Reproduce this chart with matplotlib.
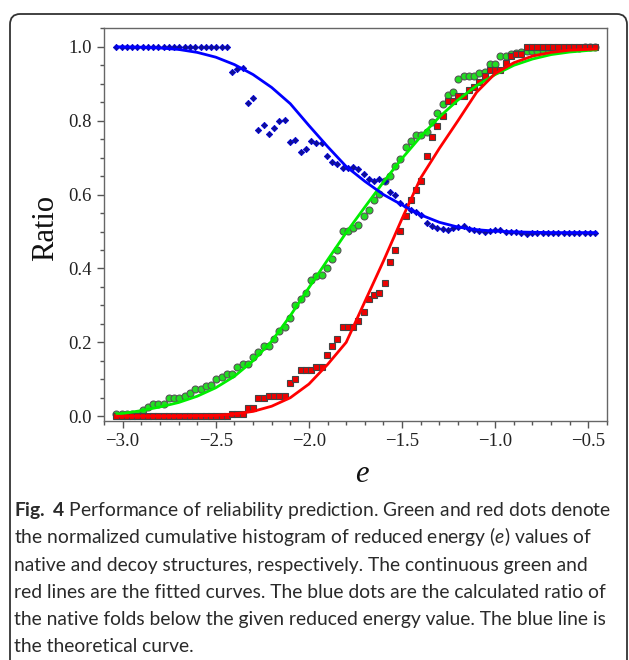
import matplotlib
matplotlib.use("Agg")
import matplotlib.pyplot as plt
from matplotlib.patches import FancyBboxPatch
from matplotlib.ticker import MultipleLocator

# reduced energy bins shared by the three dot series
e_bins = [-3.034, -3.006, -2.977, -2.949, -2.921, -2.893, -2.864, -2.836, -2.808, -2.780,
          -2.751, -2.723, -2.695, -2.667, -2.639, -2.610, -2.582, -2.554, -2.526, -2.497,
          -2.469, -2.441, -2.413, -2.384, -2.356, -2.328, -2.300, -2.271, -2.243, -2.215,
          -2.187, -2.158, -2.130, -2.102, -2.074, -2.045, -2.017, -1.989, -1.961, -1.932,
          -1.904, -1.876, -1.848, -1.819, -1.791, -1.763, -1.735, -1.706, -1.678, -1.650,
          -1.622, -1.593, -1.565, -1.537, -1.509, -1.481, -1.452, -1.424, -1.396, -1.368,
          -1.339, -1.311, -1.283, -1.255, -1.226, -1.198, -1.170, -1.142, -1.113, -1.085,
          -1.057, -1.029, -1.000, -0.972, -0.944, -0.916, -0.887, -0.859, -0.831, -0.803,
          -0.774, -0.746, -0.718, -0.690, -0.662, -0.633, -0.605, -0.577, -0.549, -0.520,
          -0.492, -0.463]

# green dots: native structures
native_cum = [0.007, 0.007, 0.007, 0.005, 0.005, 0.016, 0.025, 0.032, 0.034, 0.034,
              0.049, 0.049, 0.049, 0.055, 0.064, 0.073, 0.073, 0.082, 0.084, 0.100,
              0.107, 0.114, 0.115, 0.132, 0.141, 0.141, 0.159, 0.174, 0.190, 0.190,
              0.208, 0.231, 0.241, 0.267, 0.300, 0.316, 0.333, 0.369, 0.379, 0.381,
              0.402, 0.426, 0.450, 0.501, 0.501, 0.510, 0.519, 0.541, 0.559, 0.586,
              0.602, 0.636, 0.651, 0.678, 0.696, 0.728, 0.745, 0.762, 0.762, 0.769,
              0.796, 0.821, 0.846, 0.870, 0.879, 0.914, 0.922, 0.922, 0.922, 0.929,
              0.931, 0.954, 0.954, 0.974, 0.974, 0.981, 0.983, 0.985, 0.988, 0.990,
              0.990, 0.992, 0.993, 0.994, 0.995, 0.996, 0.997, 0.998, 0.998, 0.999,
              1.000, 1.000]

# red dots: decoy structures
decoy_cum = [0.0] * 22 + [
             0.007, 0.007, 0.007, 0.022, 0.022, 0.049, 0.049, 0.055, 0.055, 0.055,
             0.055, 0.091, 0.100, 0.124, 0.124, 0.124, 0.132, 0.132, 0.165, 0.190,
             0.208, 0.241, 0.241, 0.241, 0.258, 0.283, 0.316, 0.327, 0.334, 0.360,
             0.418, 0.450, 0.501, 0.542, 0.586, 0.612, 0.636, 0.705, 0.755, 0.787,
             0.814, 0.853, 0.854, 0.868, 0.868, 0.884, 0.891, 0.905, 0.922, 0.938,
             0.938, 0.938, 0.956, 0.974, 0.980, 0.980] + [1.0] * 14

# blue dots: ratio of native folds below e
native_ratio = [1.0] * 22 + [
                0.933, 0.940, 0.944, 0.848, 0.861, 0.776, 0.789, 0.764, 0.779, 0.800,
                0.803, 0.742, 0.748, 0.715, 0.724, 0.744, 0.740, 0.740, 0.705, 0.687,
                0.683, 0.672, 0.672, 0.676, 0.668, 0.657, 0.643, 0.638, 0.643, 0.636,
                0.608, 0.598, 0.577, 0.569, 0.559, 0.553, 0.545, 0.522, 0.514, 0.510,
                0.508, 0.504, 0.510, 0.511, 0.514, 0.507, 0.505, 0.501, 0.499, 0.501,
                0.504, 0.505, 0.499, 0.499, 0.498, 0.496, 0.492] + [0.495] * 13

# fitted / theoretical curves
curve_e = [-3.03, -2.90, -2.80, -2.70, -2.60, -2.50, -2.40, -2.30, -2.20, -2.10,
           -2.00, -1.90, -1.80, -1.70, -1.60, -1.50, -1.40, -1.30, -1.20, -1.10,
           -1.00, -0.90, -0.80, -0.70, -0.60, -0.46]
native_fit = [0.005, 0.015, 0.025, 0.037, 0.054, 0.077, 0.108, 0.150, 0.203, 0.272,
              0.348, 0.423, 0.497, 0.566, 0.634, 0.698, 0.757, 0.810, 0.856, 0.895,
              0.925, 0.950, 0.967, 0.979, 0.986, 0.992]
decoy_fit = [0.000, 0.000, 0.000, 0.000, 0.001, 0.002, 0.006, 0.013, 0.027, 0.050,
             0.087, 0.140, 0.200, 0.310, 0.420, 0.535, 0.645, 0.725, 0.800, 0.877,
             0.928, 0.957, 0.975, 0.985, 0.991, 0.994]
ratio_theory = [1.000, 0.999, 0.997, 0.993, 0.985, 0.972, 0.952, 0.925, 0.890, 0.846,
                0.787, 0.730, 0.676, 0.636, 0.600, 0.572, 0.545, 0.525, 0.512, 0.505,
                0.501, 0.499, 0.498, 0.497, 0.497, 0.497]

caption_lines = [
    r"$\mathbf{Fig.\ 4}$ Performance of reliability prediction. Green and red dots denote",
    r"the normalized cumulative histogram of reduced energy ($\mathit{e}$) values of",
    "native and decoy structures, respectively. The continuous green and",
    "red lines are the fitted curves. The blue dots are the calculated ratio of",
    "the native folds below the given reduced energy value. The blue line is",
    "the theoretical curve.",
]

cap_font = "Lato"
plt.rcParams["mathtext.fontset"] = "custom"
plt.rcParams["mathtext.rm"] = cap_font
plt.rcParams["mathtext.it"] = cap_font + ":italic"
plt.rcParams["mathtext.bf"] = cap_font + ":bold"

W, H = 629, 660
fig = plt.figure(figsize=(W / 100, H / 100), dpi=100)
ax = fig.add_axes([104 / W, 1 - 421 / H, 503 / W, 393 / H])

# dots
ax.plot(e_bins, native_cum, 'o', ms=5, mfc='#22dd22', mec='#555555', mew=0.8, zorder=3)
ax.plot(e_bins, decoy_cum, 's', ms=4.8, mfc='#ee0000', mec='#444444', mew=0.8, zorder=4)
ax.plot(e_bins, native_ratio, 'D', ms=3.2, mfc='#101090', mec='#0000dd', mew=0.6, zorder=5)

# curves
ax.plot(curve_e, native_fit, '-', color='#00ee00', lw=2, zorder=6)
ax.plot(curve_e, decoy_fit, '-', color='#ff0000', lw=2, zorder=6)
ax.plot(curve_e, ratio_theory, '-', color='#0000ff', lw=2, zorder=6)

ax.set_xlim(-3.10, -0.40)
ax.set_ylim(-0.013, 1.051)
ax.xaxis.set_major_locator(MultipleLocator(0.5))
ax.xaxis.set_minor_locator(MultipleLocator(0.1))
ax.yaxis.set_major_locator(MultipleLocator(0.2))
ax.yaxis.set_minor_locator(MultipleLocator(0.05))
ax.tick_params(which='both', direction='out', color='#555555', width=1,
               top=False, right=False)
ax.tick_params(which='major', length=5, labelsize=13.5, pad=4)
ax.tick_params(which='minor', length=3)
for sp in ax.spines.values():
    sp.set_color('#666666')
    sp.set_linewidth(1)
for lab in ax.get_xticklabels() + ax.get_yticklabels():
    lab.set_family('Liberation Serif')
    lab.set_color('#222222')
ax.xaxis.set_major_formatter(matplotlib.ticker.FuncFormatter(
    lambda v, p: ("\u2212%.1f" % abs(v)) if v < 0 else "%.1f" % v))
ax.yaxis.set_major_formatter(matplotlib.ticker.FormatStrFormatter('%.1f'))

ax.text(-0.117, 0.49, "Ratio", transform=ax.transAxes, rotation=90,
        ha='center', va='center', family='Liberation Serif', fontsize=22, color='#111111')
ax.text(0.513, -0.135, "e", transform=ax.transAxes, ha='center', va='center',
        family='Liberation Serif', style='italic', fontsize=22, color='#111111')

# caption
baselines = [516, 543, 571, 598, 625, 652]
for line, yb in zip(caption_lines, baselines):
    fig.text(14 / W, 1 - yb / H, line, family=cap_font, fontsize=13.9,
             color='#2a2a2a', va='baseline', ha='left')

# rounded panel border
border = FancyBboxPatch((10 / W, 1 - 675 / H), 617 / W, 661 / H,
                        boxstyle="round,pad=0,rounding_size=0.016",
                        transform=fig.transFigure, fill=False,
                        ec='#333333', lw=1.3, clip_on=False)
fig.patches.append(border)

fig.savefig("out.png", dpi=100)
